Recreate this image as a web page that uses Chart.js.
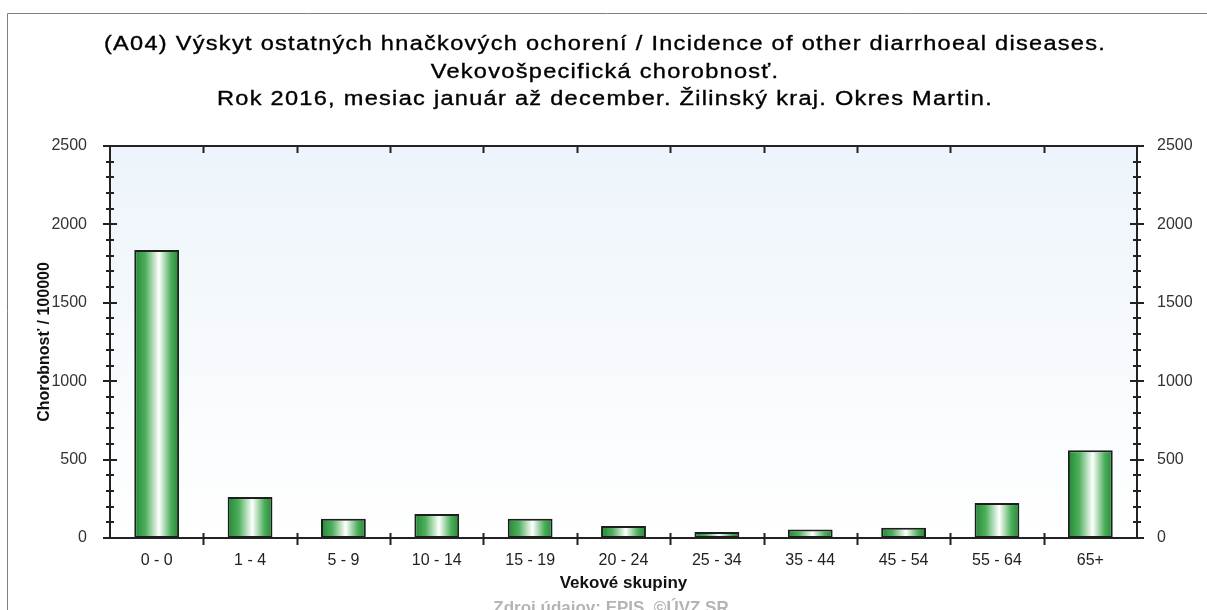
<!DOCTYPE html>
<html>
<head>
<meta charset="utf-8">
<script src="https://cdn.jsdelivr.net/npm/chart.js@4/dist/chart.umd.min.js"></script>
<style>
  html, body { margin: 0; padding: 0; background: #fff; }
  #wrap { width: 1207px; height: 610px; }
</style>
</head>
<body>
<div id="wrap"><canvas id="chart" width="1207" height="610"></canvas></div>
<script>
const ageGroups = ["0 - 0", "1 - 4", "5 - 9", "10 - 14", "15 - 19", "20 - 24", "25 - 34", "35 - 44", "45 - 54", "55 - 64", "65+"];
const morbidity = [1837, 261, 123, 153, 123, 77, 38, 55, 66, 223, 559];
const titleLines = [
  "(A04) Výskyt ostatných hnačkových ochorení / Incidence of other diarrhoeal diseases.",
  "Vekovošpecifická chorobnosť.",
  "Rok 2016, mesiac január až december. Žilinský kraj. Okres Martin."
];
const yMax = 2500;
const yMinorStep = 100;
const yMajorStep = 500;

const FONT = "Arial, 'Liberation Sans', sans-serif";
const BAR_PCT = 0.48;
const TITLE_STRETCH = 1.15;

function barGradient(context) {
  const chart = context.chart;
  const xScale = chart.scales.x;
  if (!chart.chartArea || !xScale) {
    return "#2a9a3a";
  }
  const center = xScale.getPixelForValue(context.dataIndex);
  const half = (xScale.width / ageGroups.length) * BAR_PCT / 2;
  const g = chart.ctx.createLinearGradient(center - half, 0, center + half, 0);
  g.addColorStop(0, "#1d8a30");
  g.addColorStop(0.25, "#4faf5e");
  g.addColorStop(0.55, "#ffffff");
  g.addColorStop(0.82, "#4caf5b");
  g.addColorStop(1, "#1d8a30");
  return g;
}

const backdropPlugin = {
  id: "backdrop",
  beforeDraw(chart) {
    const { ctx, chartArea } = chart;
    ctx.save();
    ctx.fillStyle = "#ffffff";
    ctx.fillRect(0, 0, chart.width, chart.height);

    // outer frame of the picture
    ctx.strokeStyle = "#808080";
    ctx.lineWidth = 1;
    ctx.beginPath();
    ctx.moveTo(7.5, chart.height);
    ctx.lineTo(7.5, 13.5);
    ctx.lineTo(chart.width, 13.5);
    ctx.stroke();

    const bg = ctx.createLinearGradient(0, chartArea.top, 0, chartArea.bottom);
    bg.addColorStop(0, "#edf4fb");
    bg.addColorStop(1, "#ffffff");
    ctx.fillStyle = bg;
    ctx.fillRect(chartArea.left, chartArea.top, chartArea.right - chartArea.left, chartArea.bottom - chartArea.top);
    ctx.restore();
  },
  afterDraw(chart) {
    const { ctx } = chart;
    ctx.save();
    // title: wide lettering like the original
    ctx.fillStyle = "#000000";
    ctx.strokeStyle = "#000000";
    ctx.lineWidth = 0.35;
    ctx.font = "20.5px " + FONT;
    ctx.textAlign = "center";
    ctx.textBaseline = "alphabetic";
    const natural = ctx.measureText(titleLines[0]).width * TITLE_STRETCH;
    const spacing = (1002 - natural) / TITLE_STRETCH / titleLines[0].length;
    if ("letterSpacing" in ctx) {
      ctx.letterSpacing = spacing.toFixed(2) + "px";
    }
    const baselines = [50, 77.5, 105];
    ctx.save();
    ctx.translate(605, 0);
    ctx.scale(TITLE_STRETCH, 1);
    titleLines.forEach((line, i) => {
      ctx.fillText(line, 0, baselines[i]);
      ctx.strokeText(line, 0, baselines[i]);
    });
    ctx.restore();
    if ("letterSpacing" in ctx) {
      ctx.letterSpacing = "0px";
    }

    ctx.fillStyle = "#b4b4b4";
    ctx.font = "bold 17px " + FONT;
    ctx.textAlign = "center";
    ctx.fillText("Zdroj údajov: EPIS, ©ÚVZ SR", 611, 613);
    ctx.restore();
  }
};

const axisTicksPlugin = {
  id: "axisTicks",
  afterDatasetsDraw(chart) {
    const { ctx, chartArea, scales } = chart;
    const { left, right, top, bottom } = chartArea;
    ctx.save();
    ctx.strokeStyle = "#222222";
    ctx.lineWidth = 2;
    ctx.strokeRect(left, top, right - left, bottom - top);

    // category boundary ticks
    const xs = scales.x;
    for (let i = 1; i < ageGroups.length; i++) {
      const bx = Math.round((xs.getPixelForValue(i - 1) + xs.getPixelForValue(i)) / 2) + 0.5;
      ctx.beginPath();
      ctx.moveTo(bx, bottom - 5);
      ctx.lineTo(bx, bottom + 7);
      ctx.moveTo(bx, top);
      ctx.lineTo(bx, top + 7);
      ctx.stroke();
    }

    // value ticks, left and right
    const ys = scales.y;
    ys.ticks.forEach((t) => {
      const py = Math.round(ys.getPixelForValue(t.value));
      const len = t.value % yMajorStep === 0 ? 7 : 4;
      ctx.beginPath();
      ctx.moveTo(left - len, py);
      ctx.lineTo(left + len, py);
      ctx.moveTo(right - len, py);
      ctx.lineTo(right + len, py);
      ctx.stroke();
    });
    ctx.restore();
  }
};

function yAxis(position, showTitle) {
  return {
    type: "linear",
    position,
    min: 0,
    max: yMax,
    grid: { display: false },
    border: { display: false },
    ticks: {
      stepSize: yMinorStep,
      autoSkip: false,
      color: "#333333",
      font: { family: FONT, size: 16 },
      padding: position === "left" ? 15 : 12,
      callback: (v) => (v % yMajorStep === 0 ? String(v) : "")
    },
    title: {
      display: showTitle,
      text: "Chorobnosť / 100000",
      color: "#111111",
      font: { family: FONT, size: 16, weight: "bold" },
      padding: { top: 35, bottom: 0 }
    },
    afterFit(scale) {
      scale.width = position === "left" ? 110 : 70;
    }
  };
}

new Chart(document.getElementById("chart"), {
  type: "bar",
  data: {
    labels: ageGroups,
    datasets: [
      {
        label: "Chorobnosť",
        data: morbidity,
        backgroundColor: barGradient,
        borderColor: "#1e1e1e",
        borderWidth: 2,
        borderSkipped: false,
        barPercentage: BAR_PCT,
        categoryPercentage: 1
      }
    ]
  },
  options: {
    responsive: false,
    animation: false,
    layout: { padding: { top: 146, left: 0, right: 0, bottom: 0 } },
    plugins: {
      legend: { display: false },
      tooltip: { enabled: false },
      title: { display: false }
    },
    scales: {
      x: {
        type: "category",
        offset: true,
        grid: { display: false },
        border: { display: false },
        ticks: {
          color: "#222222",
          font: { family: FONT, size: 16 },
          padding: 5,
          maxRotation: 0,
          autoSkip: false
        },
        title: {
          display: true,
          text: "Vekové skupiny",
          color: "#111111",
          font: { family: FONT, size: 17, weight: "bold" },
          padding: { top: 0, bottom: 16 }
        },
        afterFit(scale) {
          scale.height = 72;
        }
      },
      y: yAxis("left", true),
      y2: yAxis("right", false)
    }
  },
  plugins: [backdropPlugin, axisTicksPlugin]
});
</script>
</body>
</html>
